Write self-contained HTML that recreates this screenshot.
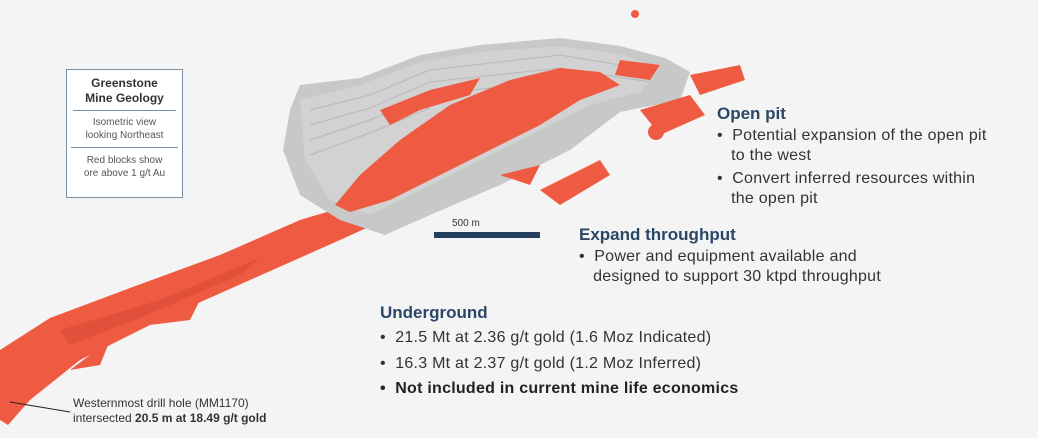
<!DOCTYPE html>
<html><head><style>
body{margin:0;width:1038px;height:438px;background:#f4f4f4;position:relative;overflow:hidden;font-family:"Liberation Sans",sans-serif}
.t{position:absolute;white-space:nowrap}
.h{color:#2a4866;font-weight:bold;font-size:17px}
.b{color:#333;font-size:16px;line-height:20px;letter-spacing:0.25px}
</style></head><body>
<svg width="1038" height="438" style="position:absolute;left:0;top:0">
<path d="M0,420 L0,350 L50,318 L130,288 L220,255 L300,220 L350,205 L395,215 L340,240 L250,280 L160,320 L80,360 L30,400 L8,425 Z" fill="#ef5b42"/>
<path d="M60,330 L160,300 L260,258 L240,275 L140,318 L70,345Z" fill="#e0503a"/>
<path d="M70,370 L110,340 L100,365Z M150,325 L200,300 L190,320Z" fill="#ef5b42"/>
<path d="M290,110 L300,85 L360,78 L420,55 L480,45 L560,38 L620,46 L665,58 L690,72 L680,100 L620,112 L570,150 L500,185 L430,215 L385,235 L340,220 L300,195 L283,150 Z" fill="#c8c8c8"/>
<path d="M300,100 L360,85 L420,62 L480,52 L560,46 L620,54 L660,68 L640,92 L590,105 L540,130 L480,160 L420,190 L370,215 L330,200 L305,160 Z" fill="#d2d2d2"/>
<g stroke="#b8b8b8" stroke-width="1" fill="none">
<path d="M310,110 L370,95 L430,70 L560,55 L650,70"/>
<path d="M310,125 L370,108 L430,82 L560,68 L650,82"/>
<path d="M310,140 L370,120 L430,95 L560,80"/>
<path d="M310,155 L370,133 L430,108"/>
</g>
<path d="M335,205 L360,175 L400,140 L450,105 L510,80 L560,68 L600,72 L620,85 L580,100 L540,125 L490,150 L440,175 L390,200 L350,212 Z" fill="#ef5b42"/>
<path d="M380,110 L430,90 L480,78 L470,95 L420,110 L390,125Z" fill="#ef5b42"/>
<path d="M620,60 L660,65 L650,80 L615,75Z" fill="#ef5b42"/>
<path d="M690,75 L740,65 L745,80 L700,95Z" fill="#ef5b42"/>
<path d="M640,110 L690,95 L705,115 L660,135Z" fill="#ef5b42"/>
<path d="M540,190 L600,160 L610,175 L560,205Z" fill="#ef5b42"/>
<path d="M500,175 L540,165 L530,185Z" fill="#ef5b42"/>
<circle cx="635" cy="14" r="4" fill="#ef5b42"/>
<circle cx="656" cy="132" r="8" fill="#ef5b42"/>
<rect x="434" y="232" width="106" height="6" fill="#243f5e"/>
<line x1="10" y1="402" x2="70" y2="412" stroke="#222" stroke-width="1"/>
</svg>
<div class="t" style="left:452px;top:218px;font-size:10px;color:#333">500 m</div>
<div style="position:absolute;left:66px;top:69px;width:115px;height:127px;border:1.5px solid #7d8fa3;background:#fff;text-align:center;color:#555">
<div style="font-weight:bold;font-size:12px;color:#333;line-height:15px;margin-top:6px">Greenstone<br>Mine Geology</div>
<div style="border-top:1.5px solid #7d8fa3;margin:4px 6px 0"></div>
<div style="font-size:10px;line-height:13px;margin-top:5px">Isometric view<br>looking Northeast</div>
<div style="border-top:1.5px solid #7d8fa3;margin:5px 4px 0"></div>
<div style="font-size:10px;line-height:13px;margin-top:6px">Red blocks show<br>ore above 1 g/t Au</div>
</div>
<div class="t h" style="left:717px;top:104px">Open pit</div>
<div class="t b" style="left:717px;top:126px">•&nbsp;&nbsp;Potential expansion of the open pit<br>&nbsp;&nbsp;&nbsp;to the west</div>
<div class="t b" style="left:717px;top:169px">•&nbsp;&nbsp;Convert inferred resources within<br>&nbsp;&nbsp;&nbsp;the open pit</div>
<div class="t h" style="left:579px;top:225px">Expand throughput</div>
<div class="t b" style="left:579px;top:247px">•&nbsp;&nbsp;Power and equipment available and<br>&nbsp;&nbsp;&nbsp;designed to support 30 ktpd throughput</div>
<div class="t h" style="left:380px;top:303px">Underground</div>
<div class="t b" style="left:380px;top:328px">•&nbsp;&nbsp;21.5 Mt at 2.36 g/t gold (1.6 Moz Indicated)</div>
<div class="t b" style="left:380px;top:354px">•&nbsp;&nbsp;16.3 Mt at 2.37 g/t gold (1.2 Moz Inferred)</div>
<div class="t b" style="left:380px;top:379px;font-weight:bold;color:#222">•&nbsp;&nbsp;Not included in current mine life economics</div>
<div class="t" style="left:73px;top:396px;font-size:12px;line-height:15px;color:#333">Westernmost drill hole (MM1170)<br>intersected <b>20.5 m at 18.49 g/t gold</b></div>
</body></html>
